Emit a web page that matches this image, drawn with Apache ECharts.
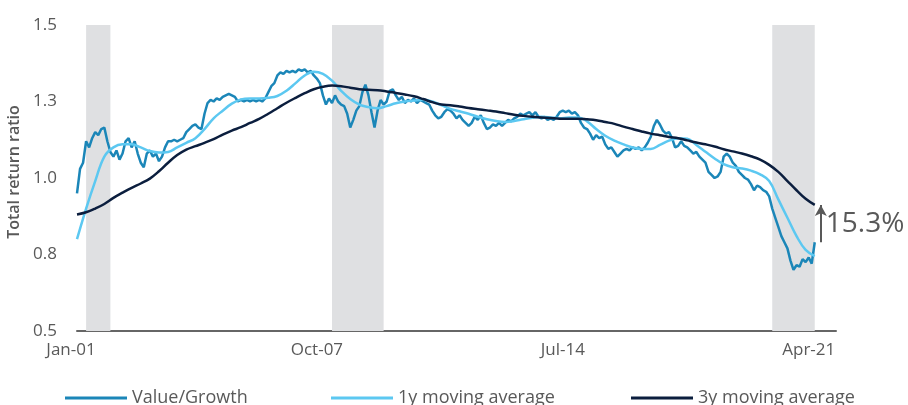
<!DOCTYPE html>
<html>
<head>
<meta charset="utf-8">
<script src="https://cdn.jsdelivr.net/npm/echarts@6.0.0/dist/echarts.min.js"></script>
<style>
    html, body { margin: 0; padding: 0; background: #fff; }
    #chart { width: 908px; height: 405px; }
</style>
</head>
<body>
<div id="chart"></div>
<script>
// monthly value/growth ratio, Jan-01 .. Apr-21 (index = months since Jan-01)
var vgValues = [
    0.95, 1.03, 1.05, 1.12, 1.10, 1.13, 1.15, 1.14, 1.16, 1.165,
    1.12, 1.085, 1.07, 1.09, 1.06, 1.08, 1.12, 1.13, 1.10, 1.12,
    1.08, 1.05, 1.035, 1.08, 1.09, 1.07, 1.08, 1.055, 1.07, 1.10,
    1.12, 1.12, 1.125, 1.12, 1.125, 1.13, 1.15, 1.16, 1.17, 1.175,
    1.165, 1.16, 1.21, 1.245, 1.255, 1.25, 1.26, 1.255, 1.265, 1.27,
    1.275, 1.27, 1.265, 1.25, 1.255, 1.25, 1.255, 1.25, 1.255, 1.25,
    1.255, 1.25, 1.26, 1.28, 1.30, 1.31, 1.335, 1.345, 1.34, 1.35,
    1.345, 1.35, 1.345, 1.355, 1.35, 1.355, 1.345, 1.35, 1.335, 1.325,
    1.31, 1.27, 1.24, 1.26, 1.245, 1.27, 1.25, 1.24, 1.235, 1.21,
    1.165, 1.19, 1.22, 1.235, 1.28, 1.305, 1.27, 1.215, 1.165, 1.22,
    1.255, 1.24, 1.25, 1.285, 1.29, 1.27, 1.255, 1.265, 1.245, 1.255,
    1.25, 1.26, 1.245, 1.255, 1.25, 1.245, 1.24, 1.22, 1.205, 1.195,
    1.20, 1.215, 1.225, 1.22, 1.21, 1.195, 1.205, 1.19, 1.18, 1.17,
    1.18, 1.20, 1.19, 1.205, 1.18, 1.16, 1.165, 1.175, 1.17, 1.18,
    1.17, 1.18, 1.19, 1.185, 1.195, 1.20, 1.21, 1.205, 1.21, 1.215,
    1.205, 1.215, 1.20, 1.195, 1.20, 1.19, 1.195, 1.19, 1.20, 1.215,
    1.22, 1.215, 1.22, 1.21, 1.215, 1.205, 1.18, 1.165, 1.16, 1.145,
    1.125, 1.14, 1.13, 1.135, 1.11, 1.095, 1.10, 1.085, 1.07, 1.08,
    1.09, 1.095, 1.09, 1.10, 1.095, 1.10, 1.09, 1.10, 1.115, 1.135,
    1.17, 1.19, 1.175, 1.155, 1.145, 1.15, 1.13, 1.10, 1.105, 1.12,
    1.105, 1.10, 1.09, 1.08, 1.085, 1.07, 1.06, 1.05, 1.02, 1.01,
    1.00, 1.005, 1.02, 1.07, 1.08, 1.07, 1.05, 1.04, 1.02, 1.01,
    1.00, 0.995, 0.98, 0.96, 0.975, 0.97, 0.96, 0.955, 0.94, 0.90,
    0.87, 0.84, 0.81, 0.79, 0.77, 0.73, 0.70, 0.715, 0.71, 0.735,
    0.725, 0.74, 0.72, 0.79
];

// moving averages, one reading every 3 months
var maStep = 3;
var ma1yValues = [
    0.80, 0.90, 0.99, 1.07, 1.10, 1.11, 1.11, 1.10, 1.088, 1.083,
    1.085, 1.10, 1.115, 1.13, 1.16, 1.195, 1.22, 1.243, 1.257, 1.26,
    1.26, 1.262, 1.268, 1.285, 1.31, 1.335, 1.347, 1.34, 1.318, 1.285,
    1.258, 1.24, 1.232, 1.228, 1.235, 1.244, 1.25, 1.253, 1.256, 1.25,
    1.238, 1.226, 1.218, 1.21, 1.20, 1.192, 1.186, 1.183, 1.186, 1.192,
    1.197, 1.20, 1.198, 1.195, 1.198, 1.198, 1.185, 1.16, 1.138, 1.122,
    1.11, 1.10, 1.095, 1.095, 1.108, 1.122, 1.13, 1.128, 1.108, 1.086,
    1.064, 1.045, 1.035, 1.031, 1.024, 1.012, 0.99, 0.93, 0.87, 0.81,
    0.765, 0.745
];
var ma3yValues = [
    0.881, 0.888, 0.90, 0.915, 0.935, 0.952, 0.968, 0.982, 0.998, 1.022,
    1.05, 1.075, 1.093, 1.104, 1.115, 1.127, 1.142, 1.155, 1.166, 1.18,
    1.193, 1.21, 1.228, 1.246, 1.262, 1.277, 1.29, 1.298, 1.302, 1.30,
    1.295, 1.29, 1.288, 1.287, 1.283, 1.278, 1.273, 1.267, 1.258, 1.248,
    1.24, 1.238, 1.234, 1.229, 1.225, 1.221, 1.217, 1.212, 1.207, 1.203,
    1.20, 1.198, 1.196, 1.194, 1.194, 1.194, 1.192, 1.189, 1.183, 1.177,
    1.168, 1.16, 1.152, 1.145, 1.14, 1.134, 1.13, 1.123, 1.116, 1.11,
    1.103, 1.094, 1.087, 1.08, 1.071, 1.06, 1.043, 1.02, 0.99, 0.96,
    0.932, 0.912
];

// shaded periods, [start month, end month]
var recessions = [[3, 11], [84, 101], [229, 243]];

var xTickMonths = [0, 81, 162, 243];
var xTickLabels = ['Jan-01', 'Oct-07', 'Jul-14', 'Apr-21'];
var seriesNames = ['Value/Growth', '1y moving average', '3y moving average'];
var gapLabel = '15.3%';

var FONT = '"Open Sans", sans-serif';
var GREY = '#595959';

var vgData = vgValues.map(function (v, i) { return [i, v]; });
var ma1Data = ma1yValues.map(function (v, i) { return [i * maStep, v]; });
var ma3Data = ma3yValues.map(function (v, i) { return [i * maStep, v]; });

var lastMonth = vgValues.length - 1;
var vgLast = vgValues[vgValues.length - 1];
var ma3Last = ma3yValues[ma3yValues.length - 1];
var arrowX = lastMonth + 2;

var chart = echarts.init(document.getElementById('chart'));

var legendBase = {
    top: 384,
    icon: 'rect',
    itemWidth: 62,
    itemHeight: 3,
    textStyle: { fontFamily: FONT, fontSize: 18, color: GREY }
};

var option = {
    animation: false,
    grid: { left: 77, right: 72, top: 25, bottom: 74, containLabel: false, outerBoundsMode: 'none' },
    legend: [
        Object.assign({ left: 60, data: [seriesNames[0]] }, legendBase),
        Object.assign({ left: 326, data: [seriesNames[1]] }, legendBase),
        Object.assign({ left: 626, data: [seriesNames[2]] }, legendBase)
    ],
    xAxis: {
        type: 'value',
        min: 0,
        max: 250,
        interval: 81,
        axisLine: { show: true, lineStyle: { color: '#666', width: 2 } },
        axisTick: { show: false },
        splitLine: { show: false },
        axisLabel: {
            fontFamily: FONT,
            fontSize: 17,
            color: GREY,
            margin: 11,
            padding: [0, 12, 0, 0],
            formatter: function (v) {
                var i = xTickMonths.indexOf(v);
                return i >= 0 ? xTickLabels[i] : '';
            }
        }
    },
    yAxis: {
        type: 'value',
        min: 0.5,
        max: 1.5,
        interval: 0.25,
        name: 'Total return ratio',
        nameLocation: 'middle',
        nameRotate: 90,
        nameGap: 52,
        nameTextStyle: { fontFamily: FONT, fontSize: 16, fontWeight: 600, color: GREY, padding: [0, 0, 0, 12] },
        axisLine: { show: false },
        axisTick: { show: false },
        splitLine: { show: false },
        axisLabel: {
            fontFamily: FONT,
            fontSize: 17,
            color: GREY,
            margin: 20,
            formatter: function (v) { return v.toFixed(1); }
        }
    },
    series: [
        {
            name: seriesNames[0],
            type: 'line',
            data: vgData,
            symbol: 'none',
            lineStyle: { color: '#1B86B8', width: 2.5 },
            itemStyle: { color: '#1B86B8' },
            markArea: {
                silent: true,
                itemStyle: { color: '#DFE0E2' },
                data: recessions.map(function (r) {
                    return [{ xAxis: r[0] }, { xAxis: r[1] }];
                })
            },
            markLine: {
                silent: true,
                symbol: ['none', 'arrow'],
                symbolSize: [9, 11],
                label: { show: false },
                lineStyle: { color: GREY, width: 2, type: 'solid' },
                data: [[{ coord: [arrowX, vgLast] }, { coord: [arrowX, ma3Last] }]]
            },
            markPoint: {
                silent: true,
                symbol: 'circle',
                symbolSize: 0,
                label: {
                    show: true,
                    position: 'right',
                    distance: 5,
                    formatter: gapLabel,
                    fontFamily: FONT,
                    fontSize: 28,
                    color: GREY
                },
                data: [{ coord: [arrowX, (vgLast + ma3Last) / 2] }]
            }
        },
        {
            name: seriesNames[1],
            type: 'line',
            data: ma1Data,
            symbol: 'none',
            smooth: 0.4,
            lineStyle: { color: '#5CC8F1', width: 2.5 },
            itemStyle: { color: '#5CC8F1' }
        },
        {
            name: seriesNames[2],
            type: 'line',
            data: ma3Data,
            symbol: 'none',
            smooth: 0.4,
            lineStyle: { color: '#0B1E3E', width: 2.5 },
            itemStyle: { color: '#0B1E3E' }
        }
    ]
};

chart.setOption(option);
</script>
</body>
</html>
